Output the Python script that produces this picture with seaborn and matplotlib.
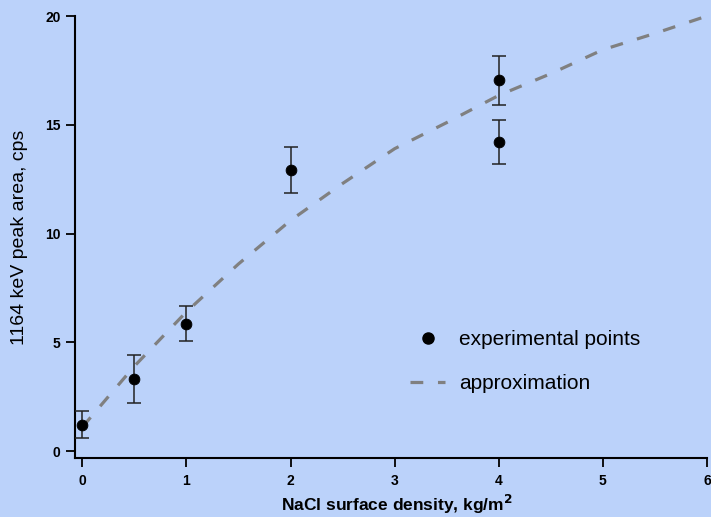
import matplotlib
matplotlib.use("Agg")
import matplotlib.pyplot as plt
import seaborn as sns
import pandas as pd
from matplotlib.lines import Line2D

# data
exp_x = [0, 0.5, 1, 2, 4, 4]
exp_y = [1.2, 3.3, 5.85, 12.9, 17.05, 14.2]
exp_err = [0.62, 1.1, 0.8, 1.06, 1.12, 1.0]

fit_x = [0, 0.5, 1, 1.5, 2, 2.5, 3, 3.5, 4, 4.5, 5, 5.5, 6]
fit_y = [1.1, 3.9, 6.4, 8.6, 10.6, 12.3, 13.9, 15.1, 16.35, 17.35, 18.45, 19.2, 20.0]

x_ticks = [0, 1, 2, 3, 4, 5, 6]
y_ticks = [0, 5, 10, 15, 20]

bg = "#BBD2FA"
sns.set_theme(style="ticks")
plt.rcParams['font.family'] = ['Liberation Sans', 'DejaVu Sans']
plt.rcParams['text.color'] = 'black'
plt.rcParams['axes.labelcolor'] = 'black'
plt.rcParams['xtick.color'] = 'black'
plt.rcParams['ytick.color'] = 'black'

fig = plt.figure(figsize=(7.11, 5.17), dpi=100, facecolor=bg)
ax = fig.add_axes([75/711, (517-458)/517, (707-75)/711, (458-16)/517])
ax.set_facecolor(bg)

fit_df = pd.DataFrame({"x": fit_x, "y": fit_y})
exp_df = pd.DataFrame({"x": exp_x, "y": exp_y})

sns.lineplot(data=fit_df, x="x", y="y", ax=ax, color="#808080", lw=2.3,
             dashes=False, zorder=2)
ax.lines[-1].set_dashes((4, 4.6))
ax.errorbar(exp_x, exp_y, yerr=exp_err, fmt="none", ecolor="#222222",
            elinewidth=1.1, capsize=5, capthick=1.1, zorder=3)
sns.scatterplot(data=exp_df, x="x", y="y", ax=ax, color="black", s=60,
                edgecolor="black", zorder=4)

ax.set_xlim(-0.07, 6)
ax.set_ylim(-0.32, 20)
ax.set_xticks(x_ticks)
ax.set_yticks(y_ticks)
ax.set_xticklabels([str(t) for t in x_ticks], fontweight="bold", fontsize=10)
ax.set_yticklabels([str(t) for t in y_ticks], fontweight="bold", fontsize=10)
ax.tick_params(direction="out", length=6.5, width=1.3, colors="black")
ax.tick_params(axis="y", pad=4)
ax.tick_params(axis="x", pad=5)
for s in ["top", "right"]:
    ax.spines[s].set_visible(False)
for s in ["left", "bottom"]:
    ax.spines[s].set_linewidth(1.5)
    ax.spines[s].set_color("black")

ax.set_xlabel("NaCl surface density, kg/m$^\\mathbf{2}$", fontweight="bold",
              fontsize=12.5)
ax.xaxis.set_label_coords(0.51, -0.078)
ax.set_ylabel("1164 keV peak area, cps", fontsize=14)
ax.yaxis.set_label_coords(-0.075, 0.5)

handles = [
    Line2D([], [], marker="o", color="black", ls="none", markersize=8),
    Line2D([], [], color="#808080", lw=2.3, dashes=(4, 4.6)),
]
leg = ax.legend(handles, ["experimental points", "approximation"],
                loc="upper left", bbox_to_anchor=(0.5005, 0.331), frameon=False,
                fontsize=15, handlelength=1.7, labelspacing=1.2, handletextpad=0.67)

fig.savefig("out.png", dpi=100, facecolor=bg)
